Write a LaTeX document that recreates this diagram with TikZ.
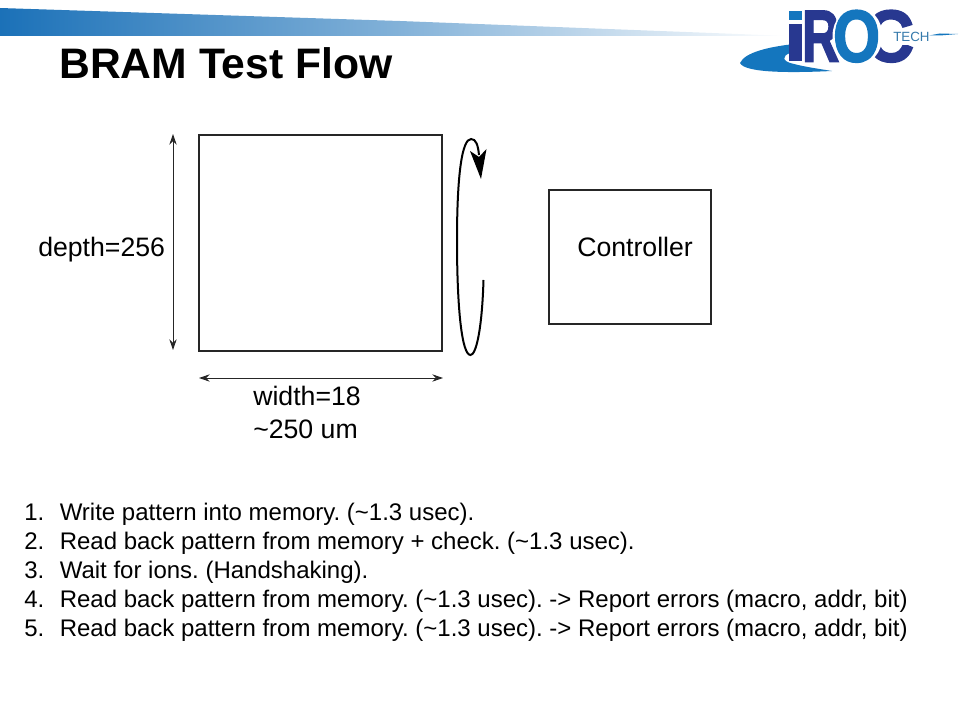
\documentclass[tikz,border=0pt]{standalone}
\usepackage{fontspec}
\setmainfont{Liberation Sans}
\newfontfamily\logofont[FakeBold=2.5]{Liberation Sans Bold}
\usetikzlibrary{arrows.meta,shadings,calc}
\definecolor{bannerblue}{RGB}{27,113,184}
\definecolor{logodark}{RGB}{40,56,144}
\definecolor{logolight}{RGB}{20,118,190}
\tikzset{
  boxline/.style={draw=black!85,line width=1.7pt},
  dimline/.style={draw=black!85,line width=0.75pt,{Stealth[length=8pt,width=5.5pt]}-{Stealth[length=8pt,width=5.5pt]}},
  labeltext/.style={font=\fontsize{20}{24}\selectfont,text=black,inner sep=0pt,anchor=base west},
  listnum/.style={font=\fontsize{18}{20}\selectfont,inner sep=0pt,anchor=base west},
  logoletter/.style={inner sep=0pt,anchor=base west},
}
\begin{document}
\frenchspacing
\begin{tikzpicture}[x=0.75pt,y=-0.75pt]
\useasboundingbox (0,0) rectangle (960,720);
% banner
\shade[left color=bannerblue,right color=white,middle color=bannerblue!55!white]
  (0,8) -- (400,21) -- (790,36) -- (0,36) -- cycle;
% logo
\fill[logolight] (740,63) .. controls (745,52) and (770,47) .. (790,44.5) -- (790,53) .. controls (782,56) and (782,61) .. (792,63.5) .. controls (805,67) and (820,69) .. (832,71) .. controls (800,72.5) and (745,74) .. (740,63) -- cycle;
\fill[logolight] (789,11) rectangle (802,20);
\fill[logodark] (789,24) rectangle (802,61.5);
\node[logoletter,text=logodark,font=\logofont\fontsize{55}{55}\selectfont,xscale=0.70] (logor) at (802,61.5) {R};
\node[logoletter,text=logodark,font=\logofont\fontsize{55}{55}\selectfont,xscale=0.92] (logoc) at (865,61.5) {C};
\fill[white] (857.5,36) ellipse (25 and 29);
\node[logoletter,text=logolight,font=\logofont\fontsize{55}{55}\selectfont,xscale=0.82] (logoo) at (833,61.5) {O};
\fill[white] (889,29) rectangle (916,45);
\node[inner sep=0pt,anchor=west,text=logolight!70!gray,font=\fontsize{10}{10}\selectfont] (tech) at (893,37) {TECH};
\fill[logolight] (929,35.5) -- (940,33.5) -- (958,34) -- (940,35.5) -- cycle;
% title
\node[inner sep=0pt,anchor=base west,font=\bfseries\fontsize{32}{38}\selectfont] (title) at (59,79) {BRAM Test Flow};
% memory
\node[boxline,minimum width=182pt,minimum height=162pt,inner sep=0pt] (mem) at (320.5,243) {};
\node[boxline,minimum width=121.5pt,minimum height=101pt,inner sep=0pt] (ctrl) at (630,257) {};
\node[labeltext] (ctrltext) at (577,257) {Controller};
\node[labeltext] (depth) at (38,257) {depth=256};
\node[labeltext] (width) at (253,405) {width=18};
\node[labeltext] (um) at (253,438) {\char`\~250 um};
% dimension arrows
\coordinate (dt) at (173,134); \coordinate (db) at (173,350);
\coordinate (wl) at (199,378); \coordinate (wr) at (443,378);
\draw[dimline] (dt) -- (db);
\draw[dimline] (wl) -- (wr);
% loop
\coordinate (ls) at (483.5,280);
\draw[black,line width=1.5pt] (ls) .. controls (482,330) and (476,355) .. (470.5,355)
  .. controls (462,355) and (457,310) .. (457,240)
  .. controls (457,175) and (462,139) .. (471,139)
  .. controls (476,139) and (478,145) .. (479,155);
\fill[black] (470,151) -- (479,157) -- (486.5,149) -- (481,179) -- cycle;
% list
\node[listnum] (ta) at (59.5,520) {Write pattern into memory. (\char`\~1.3 usec).};
\node[listnum] (tb) at (59.5,549) {Read back pattern from memory + check. (\char`\~1.3 usec).};
\node[listnum] (tc) at (59.5,578) {Wait for ions. (Handshaking).};
\node[listnum] (td) at (59.5,607) {Read back pattern from memory. (\char`\~1.3 usec). -> Report errors (macro, addr, bit)};
\node[listnum] (te) at (59.5,636) {Read back pattern from memory. (\char`\~1.3 usec). -> Report errors (macro, addr, bit)};
\node[listnum] (n1) at (24,520) {1.};
\node[listnum] (n2) at (24,549) {2.};
\node[listnum] (n3) at (24,578) {3.};
\node[listnum] (n4) at (24,607) {4.};
\node[listnum] (n5) at (24,636) {5.};
\end{tikzpicture}
\end{document}
